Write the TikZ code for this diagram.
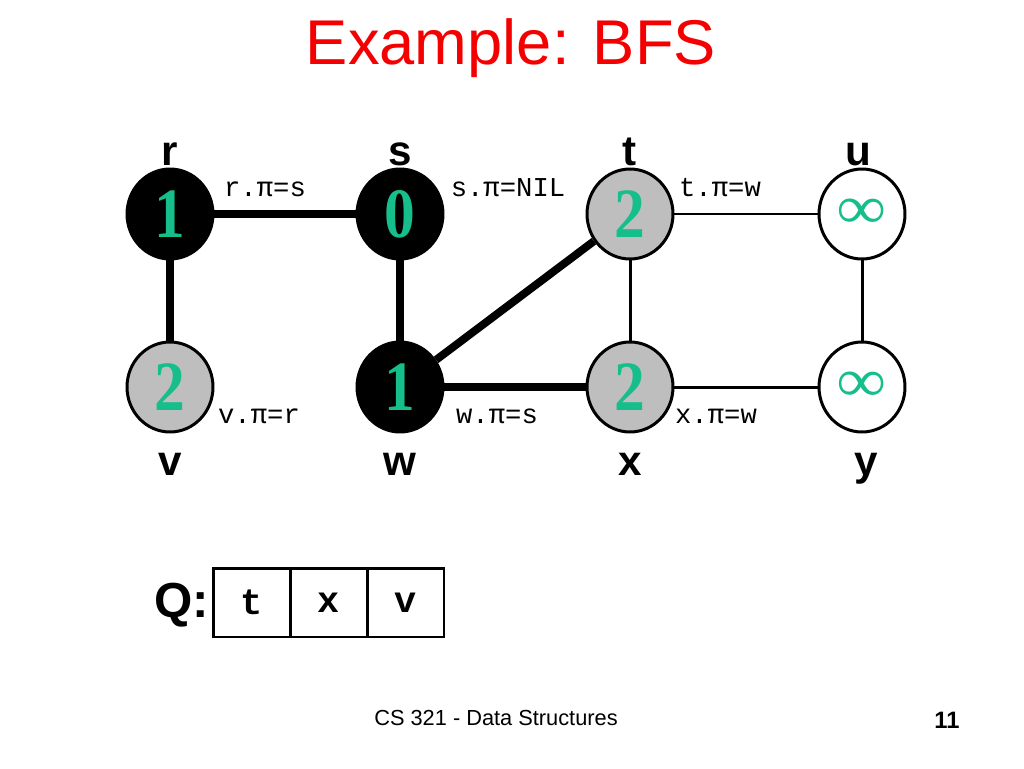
\documentclass[tikz,border=0pt]{standalone}
\usepackage{fontspec}
\setmainfont{Liberation Serif}
\setsansfont{Liberation Sans}
\setmonofont{Liberation Mono}
\usepackage{tikz}
\usetikzlibrary{shapes.geometric}
\definecolor{distgreen}{RGB}{22,190,140}
\definecolor{titlered}{RGB}{245,0,0}
\definecolor{vertgray}{RGB}{190,190,190}
\newcommand{\tallnum}[1]{\scalebox{1}[1.15]{#1}}

\begin{document}
\begin{tikzpicture}[x=0.02cm, y=-0.02cm, line width=1.7pt,
    vert/.style={ellipse, draw, line width=1.7pt, minimum width=1.72cm, minimum height=1.8cm,
        inner sep=0pt, text=distgreen, font=\fontsize{35}{35}\selectfont\bfseries},
    blackv/.style={vert, fill=black},
    grayv/.style={vert, fill=vertgray},
    whitev/.style={vert, fill=white},
    vname/.style={anchor=base, font=\fontsize{24}{24}\selectfont\sffamily\bfseries},
    pilabel/.style={anchor=base, font=\fontsize{15.5}{15.5}\selectfont\ttfamily},
    thickedge/.style={line width=4.5pt},
    thinedge/.style={line width=1.7pt},
    qcell/.style={draw, line width=1.7pt, minimum width=1.54cm, minimum height=1.38cm,
        inner sep=0pt, font=\fontsize{21}{21}\selectfont\ttfamily\bfseries}]
    \useasboundingbox (0,0) rectangle (1024,768);

    \node[font=\fontsize{36}{36}\selectfont\sffamily, text=titlered] (title) at (511,48) {Example: BFS};

    \node[blackv] (r) at (170,214) {\tallnum{1}};
    \node[blackv] (s) at (400,214) {\tallnum{0}};
    \node[grayv] (t) at (630,214) {\tallnum{2}};
    \node[whitev] (u) at (862,214) {\scalebox{1.1}[1]{∞}};
    \node[grayv] (v) at (170,387) {\tallnum{2}};
    \node[blackv] (w) at (400,387) {\tallnum{1}};
    \node[grayv] (x) at (630,387) {\tallnum{2}};
    \node[whitev] (y) at (862,387) {\scalebox{1.1}[1]{∞}};

    \node[vname] (rname) at (170,165) {r};
    \node[vname] (sname) at (400,165) {s};
    \node[vname] (tname) at (630,165) {t};
    \node[vname] (uname) at (858,165) {u};
    \node[vname] (vname) at (170,475) {v};
    \node[vname] (wname) at (400,475) {w};
    \node[vname] (xname) at (630,475) {x};
    \node[vname] (yname) at (866,475) {y};

    \node[pilabel] (rpi) at (265,196) {r.π=s};
    \node[pilabel] (spi) at (508,196) {s.π=NIL};
    \node[pilabel] (tpi) at (720,196) {t.π=w};
    \node[pilabel] (vpi) at (259,423) {v.π=r};
    \node[pilabel] (wpi) at (497,423) {w.π=s};
    \node[pilabel] (xpi) at (716,423) {x.π=w};

    \draw[thickedge] (r) -- (s);
    \draw[thickedge] (r) -- (v);
    \draw[thickedge] (s) -- (w);
    \draw[thickedge] (w) -- (t);
    \draw[thickedge] (w) -- (x);
    \draw[thinedge] (t) -- (u);
    \draw[thinedge] (t) -- (x);
    \draw[thinedge] (u) -- (y);
    \draw[thinedge] (x) -- (y);

    \node[font=\fontsize{28}{28}\selectfont\sffamily\bfseries] (qlabel) at (182,605) {Q:};
    \node[qcell] (q1) at (251.5,602.5) {t};
    \node[qcell] (q2) at (328.5,602.5) {x};
    \node[qcell] (q3) at (405.5,602.5) {v};

    \node[font=\fontsize{12.4}{12.4}\selectfont\sffamily] (footer) at (496,718) {CS 321 - Data Structures};
    \node[font=\fontsize{13.5}{13.5}\selectfont\sffamily\bfseries] (page) at (947,720) {11};
\end{tikzpicture}
\end{document}
